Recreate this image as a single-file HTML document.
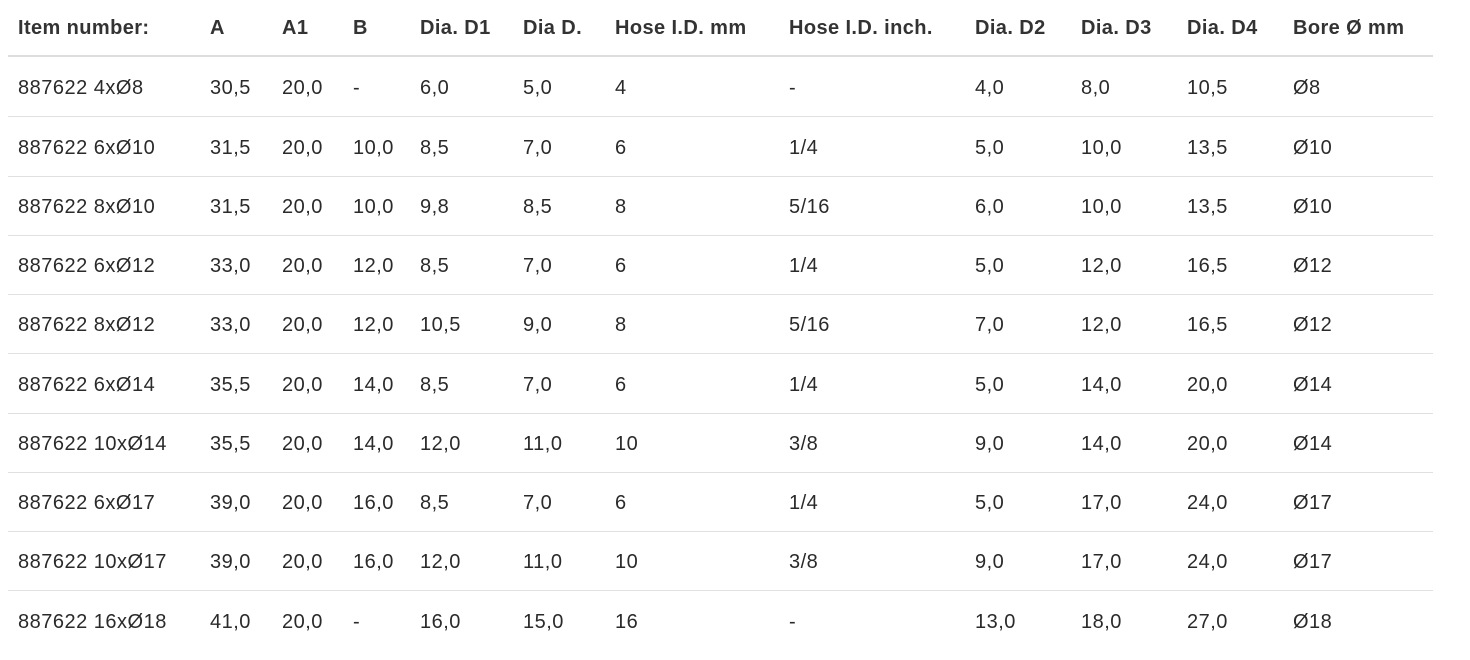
<!DOCTYPE html>
<html><head><meta charset="utf-8"><style>
body{margin:0;width:1470px;height:660px;background:#fff;font-family:"Liberation Sans",sans-serif;color:#2a2a2a;position:relative;overflow:hidden}
.c{position:absolute;font-size:20px;letter-spacing:0.5px;white-space:nowrap;line-height:20px}
.h{font-weight:bold;color:#333;letter-spacing:0.4px}
.l{position:absolute;left:8px;width:1425px;height:1px;background:#e0e0e0}
</style></head><body>
<div class="l" style="top:55px;height:2px;background:#ddd"></div>
<script>
var xs=[18,210,282,353,420,523,615,789,975,1081,1187,1293];
var hd=["Item number:","A","A1","B","Dia. D1","Dia D.","Hose I.D. mm","Hose I.D. inch.","Dia. D2","Dia. D3","Dia. D4","Bore Ø mm"];
var rows=[
["887622 4xØ8","30,5","20,0","-","6,0","5,0","4","-","4,0","8,0","10,5","Ø8"],
["887622 6xØ10","31,5","20,0","10,0","8,5","7,0","6","1/4","5,0","10,0","13,5","Ø10"],
["887622 8xØ10","31,5","20,0","10,0","9,8","8,5","8","5/16","6,0","10,0","13,5","Ø10"],
["887622 6xØ12","33,0","20,0","12,0","8,5","7,0","6","1/4","5,0","12,0","16,5","Ø12"],
["887622 8xØ12","33,0","20,0","12,0","10,5","9,0","8","5/16","7,0","12,0","16,5","Ø12"],
["887622 6xØ14","35,5","20,0","14,0","8,5","7,0","6","1/4","5,0","14,0","20,0","Ø14"],
["887622 10xØ14","35,5","20,0","14,0","12,0","11,0","10","3/8","9,0","14,0","20,0","Ø14"],
["887622 6xØ17","39,0","20,0","16,0","8,5","7,0","6","1/4","5,0","17,0","24,0","Ø17"],
["887622 10xØ17","39,0","20,0","16,0","12,0","11,0","10","3/8","9,0","17,0","24,0","Ø17"],
["887622 16xØ18","41,0","20,0","-","16,0","15,0","16","-","13,0","18,0","27,0","Ø18"]];
var s="";
hd.forEach(function(t,i){s+='<div class="c h" style="left:'+xs[i]+'px;top:18px">'+t+'</div>';});
var cy=[86,146,205,264,323,383,442,501,560,620];
rows.forEach(function(r,j){
 r.forEach(function(t,i){s+='<div class="c" style="left:'+xs[i]+'px;top:'+(cy[j]-8)+'px">'+t+'</div>';});
 if(j<9)s+='<div class="l" style="top:'+Math.round((cy[j]+cy[j+1])/2)+'px"></div>';
});
document.write(s);
</script>
</body></html>
